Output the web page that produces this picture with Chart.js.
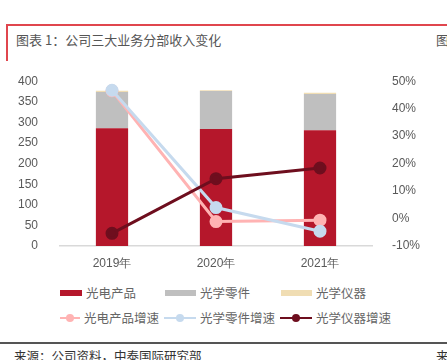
<!DOCTYPE html>
<html>
<head>
<meta charset="utf-8">
<script src="https://cdn.jsdelivr.net/npm/chart.js@4"></script>
<style>
    body { margin: 0; width: 447px; height: 360px; background: #fff; overflow: hidden; position: relative;
           font-family: "Noto Sans CJK SC", "Liberation Sans", sans-serif; color: #595959; }
    .frame-top { position: absolute; left: 6px; top: 24px; width: 441px; height: 2px; background: #E0464E; }
    .frame-left { position: absolute; left: 6px; top: 24px; width: 2px; height: 37px; background: #E0464E; }
    .title { position: absolute; left: 16px; top: 30px; font-size: 13px; color: #555; }
    .title-r { position: absolute; left: 436px; top: 30px; font-size: 13px; color: #555; }
    #wrap { position: absolute; left: 0; top: 60px; width: 447px; height: 216px; }
    .legend { position: absolute; font-size: 12.5px; color: #666; }
    .item { position: absolute; white-space: nowrap; display: flex; align-items: center; }
    .sw { display: inline-block; height: 6px; margin-right: 4px; }
    .ln { display: inline-block; position: relative; height: 2px; margin-right: 4px; }
    .ln i { position: absolute; left: 50%; top: -3px; width: 8px; height: 8px; margin-left: -4px; border-radius: 50%; }
    .rule { position: absolute; left: 0; top: 342px; width: 447px; height: 2px; background: #555; }
    .source { position: absolute; left: 14px; top: 346px; font-size: 12.5px; color: #333; }
    .source-r { position: absolute; left: 436px; top: 346px; font-size: 12.5px; color: #333; }
</style>
</head>
<body>
<div class="frame-top"></div>
<div class="frame-left"></div>
<div class="title">图表 1：公司三大业务分部收入变化</div>
<div class="title-r">图</div>
<div id="wrap"><canvas id="chart"></canvas></div>
<div id="legend"></div>
<div class="rule"></div>
<div class="source">来源：公司资料，中泰国际研究部</div>
<div class="source-r">来</div>
<script>
// ---- data ----
var years = ['2019年', '2020年', '2021年'];
var optoRevenue = [286, 284, 281];     // 光电产品
var opticsRevenue = [88, 92, 88];      // 光学零件
var instrRevenue = [3, 2, 3];          // 光学仪器
var optoGrowth = [46.5, -1.1, -0.6];   // 光电产品增速 (%)
var opticsGrowth = [46.7, 4.0, -4.6];  // 光学零件增速 (%)
var instrGrowth = [-5.4, 14.5, 18.4];  // 光学仪器增速 (%)
var leftTicks = [0, 50, 100, 150, 200, 250, 300, 350, 400];
var rightTicks = [-10, 0, 10, 20, 30, 40, 50];

var RED = '#B5172B', GRAY = '#BFBFBF', BEIGE = '#F0DDB3';
var PINK = '#FFB3B3', BLUE = '#C6DAEE', DARK = '#6E0E1E';

var tickFont = { family: "'Liberation Sans', sans-serif", size: 12 };

function lineSet(label, data, color, order) {
    return {
        type: 'line', label: label, data: data, yAxisID: 'y1',
        borderColor: color, backgroundColor: color, borderWidth: 3,
        pointRadius: 5, pointBackgroundColor: color, pointBorderColor: color,
        tension: 0, order: order
    };
}

var chart = new Chart(document.getElementById('chart'), {
    data: {
        labels: years,
        datasets: [
            lineSet('光电产品增速', optoGrowth, PINK, 3),
            lineSet('光学零件增速', opticsGrowth, BLUE, 2),
            lineSet('光学仪器增速', instrGrowth, DARK, 1),
            { type: 'bar', label: '光电产品', data: optoRevenue, backgroundColor: RED, stack: 's', yAxisID: 'y', barPercentage: 0.31, categoryPercentage: 1, order: 10 },
            { type: 'bar', label: '光学零件', data: opticsRevenue, backgroundColor: GRAY, stack: 's', yAxisID: 'y', barPercentage: 0.31, categoryPercentage: 1, order: 10 },
            { type: 'bar', label: '光学仪器', data: instrRevenue, backgroundColor: BEIGE, stack: 's', yAxisID: 'y', barPercentage: 0.31, categoryPercentage: 1, order: 10 }
        ]
    },
    options: {
        responsive: true,
        maintainAspectRatio: false,
        animation: false,
        layout: { padding: { top: 4, left: 0, right: 0, bottom: 0 } },
        plugins: { legend: { display: false }, tooltip: { enabled: false } },
        scales: {
            x: {
                stacked: true,
                grid: { display: false, drawTicks: false },
                border: { color: '#D9D9D9', width: 1.5 },
                ticks: { color: '#595959', font: tickFont, padding: 10 },
                afterFit: function (s) { s.height = 30; }
            },
            y: {
                stacked: true, position: 'left', min: 0, max: 400,
                grid: { display: false }, border: { display: false },
                afterBuildTicks: function (s) { s.ticks = leftTicks.map(function (v) { return { value: v }; }); },
                ticks: { color: '#595959', font: tickFont, padding: 14 },
                afterFit: function (s) { s.width = 60; }
            },
            y1: {
                position: 'right', min: -10, max: 50,
                grid: { display: false }, border: { display: false },
                afterBuildTicks: function (s) { s.ticks = rightTicks.map(function (v) { return { value: v }; }); },
                ticks: { color: '#595959', font: tickFont, padding: 12, callback: function (v) { return v + '%'; } },
                afterFit: function (s) { s.width = 75; }
            }
        }
    }
});

// ---- legend (HTML, two rows) ----
var legendItems = [
    { text: '光电产品', kind: 'bar', color: RED, x: 60, y: 283, w: 22 },
    { text: '光学零件', kind: 'bar', color: GRAY, x: 165, y: 283, w: 31 },
    { text: '光学仪器', kind: 'bar', color: BEIGE, x: 281, y: 283, w: 31 },
    { text: '光电产品增速', kind: 'line', color: PINK, x: 60, y: 308, w: 20 },
    { text: '光学零件增速', kind: 'line', color: BLUE, x: 164, y: 308, w: 32 },
    { text: '光学仪器增速', kind: 'line', color: DARK, x: 280, y: 308, w: 32 }
];
var html = '';
legendItems.forEach(function (it) {
    var mark = it.kind === 'bar'
        ? '<span class="sw" style="width:' + it.w + 'px;background:' + it.color + '"></span>'
        : '<span class="ln" style="width:' + it.w + 'px;background:' + it.color + '"><i style="background:' + it.color + '"></i></span>';
    html += '<div class="item legend" style="left:' + it.x + 'px;top:' + it.y + 'px">' + mark + it.text + '</div>';
});
document.getElementById('legend').innerHTML = html;
</script>
</body>
</html>
